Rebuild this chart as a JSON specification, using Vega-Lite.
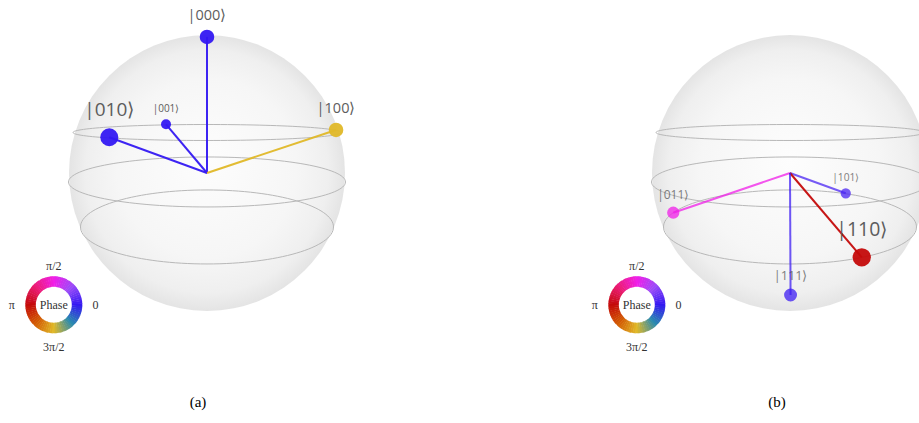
{
  "$schema": "https://vega.github.io/schema/vega-lite/v6.json",
  "padding": 0,
  "spacing": 0,
  "background": "white",
  "config": {"view": {"stroke": null}, "concat": {"spacing": 0}},
  "datasets": {
    "wheel": [
      {"phase": 0}, {"phase": 5}, {"phase": 10}, {"phase": 15}, {"phase": 20}, {"phase": 25},
      {"phase": 30}, {"phase": 35}, {"phase": 40}, {"phase": 45}, {"phase": 50}, {"phase": 55},
      {"phase": 60}, {"phase": 65}, {"phase": 70}, {"phase": 75}, {"phase": 80}, {"phase": 85},
      {"phase": 90}, {"phase": 95}, {"phase": 100}, {"phase": 105}, {"phase": 110}, {"phase": 115},
      {"phase": 120}, {"phase": 125}, {"phase": 130}, {"phase": 135}, {"phase": 140}, {"phase": 145},
      {"phase": 150}, {"phase": 155}, {"phase": 160}, {"phase": 165}, {"phase": 170}, {"phase": 175},
      {"phase": 180}, {"phase": 185}, {"phase": 190}, {"phase": 195}, {"phase": 200}, {"phase": 205},
      {"phase": 210}, {"phase": 215}, {"phase": 220}, {"phase": 225}, {"phase": 230}, {"phase": 235},
      {"phase": 240}, {"phase": 245}, {"phase": 250}, {"phase": 255}, {"phase": 260}, {"phase": 265},
      {"phase": 270}, {"phase": 275}, {"phase": 280}, {"phase": 285}, {"phase": 290}, {"phase": 295},
      {"phase": 300}, {"phase": 305}, {"phase": 310}, {"phase": 315}, {"phase": 320}, {"phase": 325},
      {"phase": 330}, {"phase": 335}, {"phase": 340}, {"phase": 345}, {"phase": 350}, {"phase": 355}
    ],
    "wheelLabels": [
      {"x": -1.11, "y": -0.672, "label": "π/2"},
      {"x": -1.414, "y": -0.953, "label": "π"},
      {"x": -0.808, "y": -0.953, "label": "0"},
      {"x": -1.11, "y": -1.259, "label": "3π/2"},
      {"x": -1.11, "y": -0.955, "label": "Phase"}
    ]
  },
  "hconcat": [
    {
      "width": 459,
      "height": 423,
      "layer": [
        {
          "data": {"values": [{"x": 0, "y": 0}]},
          "mark": {"type": "point", "shape": "circle", "filled": true, "size": 76176, "opacity": 1, "strokeWidth": 0,
            "fill": {"gradient": "radial", "x1": 0.5, "y1": 0.45, "r1": 0, "x2": 0.5, "y2": 0.5, "r2": 0.5,
              "stops": [{"offset": 0, "color": "#fdfdfd"}, {"offset": 0.65, "color": "#f6f6f6"}, {"offset": 0.88, "color": "#efefef"}, {"offset": 1, "color": "#e4e4e4"}]}},
          "encoding": {
            "x": {"field": "x", "type": "quantitative", "axis": null, "scale": {"domain": [-1.5, 1.8261], "nice": false, "zero": false}},
            "y": {"field": "y", "type": "quantitative", "axis": null, "scale": {"domain": [-1.8116, 1.2536], "nice": false, "zero": false}}
          }
        },
        {
          "data": {"values": [{"x": 0, "y": 0.2935}]},
          "mark": {"type": "point", "shape": "M -1 0 A 1 0.0597 0 1 1 1 0 A 1 0.0597 0 1 1 -1 0 Z", "filled": false, "size": 71824, "stroke": "#b8b8b8", "strokeWidth": 1, "opacity": 1},
          "encoding": {"x": {"field": "x", "type": "quantitative"}, "y": {"field": "y", "type": "quantitative"}}
        },
        {
          "data": {"values": [{"x": 0, "y": -0.065}]},
          "mark": {"type": "point", "shape": "M -1 0 A 1 0.1805 0 1 1 1 0 A 1 0.1805 0 1 1 -1 0 Z", "filled": false, "size": 76729, "stroke": "#b8b8b8", "strokeWidth": 1, "opacity": 1},
          "encoding": {"x": {"field": "x", "type": "quantitative"}, "y": {"field": "y", "type": "quantitative"}}
        },
        {
          "data": {"values": [{"x": 0, "y": -0.391}]},
          "mark": {"type": "point", "shape": "M -1 0 A 1 0.2925 0 1 1 1 0 A 1 0.2925 0 1 1 -1 0 Z", "filled": false, "size": 64009, "stroke": "#b8b8b8", "strokeWidth": 1, "opacity": 1},
          "encoding": {"x": {"field": "x", "type": "quantitative"}, "y": {"field": "y", "type": "quantitative"}}
        },
        {
          "data": {"name": "statesA", "values": [
            {"state": "|000⟩", "x": 0, "y": 0.986, "prob": 0.25, "phase": 0, "side": "front"},
            {"state": "|001⟩", "x": -0.297, "y": 0.353, "prob": 0.05, "phase": 0, "side": "front"},
            {"state": "|010⟩", "x": -0.708, "y": 0.259, "prob": 0.45, "phase": 0, "side": "front"},
            {"state": "|100⟩", "x": 0.935, "y": 0.312, "prob": 0.25, "phase": 270, "side": "front"}
          ]},
          "encoding": {"x": {"field": "x", "type": "quantitative"}, "y": {"field": "y", "type": "quantitative"}},
          "layer": [
            {
              "mark": {"type": "rule", "strokeWidth": 2},
              "encoding": {
                "x2": {"datum": 0},
                "y2": {"datum": 0},
                "color": {"field": "phase", "type": "quantitative", "legend": null,
                  "scale": {"domain": [0, 45, 90, 135, 180, 225, 270, 315, 360], "range": ["#3318f2", "#9a4cf8", "#f01ee8", "#ec1c78", "#c40a0a", "#d25a04", "#e0b828", "#2a8aae", "#3318f2"], "interpolate": "rgb"}},
                "opacity": {"field": "side", "type": "nominal", "legend": null, "scale": {"domain": ["front", "back"], "range": [0.95, 0.75]}}
              }
            },
            {
              "mark": {"type": "point", "shape": "circle", "filled": true, "strokeWidth": 0},
              "encoding": {
                "size": {"field": "prob", "type": "quantitative", "legend": null, "scale": {"domain": [0.05, 0.45], "range": [100, 324], "zero": false}},
                "color": {"field": "phase", "type": "quantitative", "legend": null},
                "opacity": {"field": "side", "type": "nominal", "legend": null}
              }
            },
            {
              "transform": [{"calculate": "datum.y + (15 + 30 * (datum.prob - 0.05)) / 138", "as": "ly"}],
              "mark": {"type": "text", "font": "Open Sans", "color": "#555555", "baseline": "middle", "align": "center"},
              "encoding": {
                "y": {"field": "ly", "type": "quantitative"},
                "text": {"field": "state"},
                "size": {"field": "prob", "type": "quantitative", "legend": null, "scale": {"domain": [0.05, 0.45], "range": [10, 19], "zero": false}},
                "opacity": {"field": "side", "type": "nominal", "legend": null}
              }
            }
          ],
          "resolve": {"scale": {"size": "independent"}}
        },
        {
          "data": {"name": "wheel"},
          "mark": {"type": "point", "filled": true, "size": 3249, "opacity": 1, "strokeWidth": 0,
            "shape": "M 0.99863 -0.05234 A 1 1 0 0 1 0.99863 0.05234 L 0.63071 0.03306 A 0.63158 0.63158 0 0 0 0.63071 -0.03306 Z"},
          "encoding": {
            "x": {"datum": -1.11},
            "y": {"datum": -0.955},
            "angle": {"field": "phase", "type": "quantitative", "legend": null, "scale": {"domain": [0, 360], "range": [360, 0]}},
            "color": {"field": "phase", "type": "quantitative", "legend": null}
          }
        },
        {
          "data": {"name": "wheelLabels"},
          "mark": {"type": "text", "font": "Liberation Serif", "fontSize": 12, "color": "#333333", "baseline": "middle", "align": "center"},
          "encoding": {"x": {"field": "x", "type": "quantitative"}, "y": {"field": "y", "type": "quantitative"}, "text": {"field": "label"}}
        },
        {
          "data": {"values": [{"x": -0.065, "y": -1.659, "caption": "(a)"}]},
          "mark": {"type": "text", "font": "Liberation Serif", "fontSize": 15, "color": "#000000", "baseline": "middle", "align": "center"},
          "encoding": {"x": {"field": "x", "type": "quantitative"}, "y": {"field": "y", "type": "quantitative"}, "text": {"field": "caption"}}
        }
      ],
      "resolve": {"scale": {"size": "independent"}}
    },
    {
      "width": 460,
      "height": 423,
      "layer": [
        {
          "data": {"values": [{"x": 0, "y": 0}]},
          "mark": {"type": "point", "shape": "circle", "filled": true, "size": 76176, "opacity": 1, "strokeWidth": 0, "clip": true,
            "fill": {"gradient": "radial", "x1": 0.5, "y1": 0.45, "r1": 0, "x2": 0.5, "y2": 0.5, "r2": 0.5,
              "stops": [{"offset": 0, "color": "#fdfdfd"}, {"offset": 0.65, "color": "#f6f6f6"}, {"offset": 0.88, "color": "#efefef"}, {"offset": 1, "color": "#e4e4e4"}]}},
          "encoding": {
            "x": {"field": "x", "type": "quantitative", "axis": null, "scale": {"domain": [-2.3986, 0.9348], "nice": false, "zero": false}},
            "y": {"field": "y", "type": "quantitative", "axis": null, "scale": {"domain": [-1.8116, 1.2536], "nice": false, "zero": false}}
          }
        },
        {
          "data": {"values": [{"x": 0, "y": 0.2935}]},
          "mark": {"type": "point", "shape": "M -1 0 A 1 0.0597 0 1 1 1 0 A 1 0.0597 0 1 1 -1 0 Z", "filled": false, "size": 71824, "stroke": "#b8b8b8", "strokeWidth": 1, "opacity": 1, "clip": true},
          "encoding": {"x": {"field": "x", "type": "quantitative"}, "y": {"field": "y", "type": "quantitative"}}
        },
        {
          "data": {"values": [{"x": 0, "y": -0.065}]},
          "mark": {"type": "point", "shape": "M -1 0 A 1 0.1805 0 1 1 1 0 A 1 0.1805 0 1 1 -1 0 Z", "filled": false, "size": 76729, "stroke": "#b8b8b8", "strokeWidth": 1, "opacity": 1, "clip": true},
          "encoding": {"x": {"field": "x", "type": "quantitative"}, "y": {"field": "y", "type": "quantitative"}}
        },
        {
          "data": {"values": [{"x": 0, "y": -0.391}]},
          "mark": {"type": "point", "shape": "M -1 0 A 1 0.2925 0 1 1 1 0 A 1 0.2925 0 1 1 -1 0 Z", "filled": false, "size": 64009, "stroke": "#b8b8b8", "strokeWidth": 1, "opacity": 1, "clip": true},
          "encoding": {"x": {"field": "x", "type": "quantitative"}, "y": {"field": "y", "type": "quantitative"}}
        },
        {
          "data": {"name": "statesB", "values": [
            {"state": "|011⟩", "x": -0.846, "y": -0.288, "prob": 0.14, "phase": 90, "side": "back"},
            {"state": "|101⟩", "x": 0.404, "y": -0.147, "prob": 0.06, "phase": 10, "side": "back"},
            {"state": "|110⟩", "x": 0.52, "y": -0.611, "prob": 0.47, "phase": 180, "side": "front"},
            {"state": "|111⟩", "x": 0.004, "y": -0.884, "prob": 0.17, "phase": 5, "side": "back"}
          ]},
          "encoding": {"x": {"field": "x", "type": "quantitative"}, "y": {"field": "y", "type": "quantitative"}},
          "layer": [
            {
              "mark": {"type": "rule", "strokeWidth": 2},
              "encoding": {
                "x2": {"datum": 0},
                "y2": {"datum": 0},
                "color": {"field": "phase", "type": "quantitative", "legend": null,
                  "scale": {"domain": [0, 45, 90, 135, 180, 225, 270, 315, 360], "range": ["#3318f2", "#9a4cf8", "#f01ee8", "#ec1c78", "#c40a0a", "#d25a04", "#e0b828", "#2a8aae", "#3318f2"], "interpolate": "rgb"}},
                "opacity": {"field": "side", "type": "nominal", "legend": null, "scale": {"domain": ["front", "back"], "range": [0.95, 0.75]}}
              }
            },
            {
              "mark": {"type": "point", "shape": "circle", "filled": true, "strokeWidth": 0},
              "encoding": {
                "size": {"field": "prob", "type": "quantitative", "legend": null, "scale": {"domain": [0.05, 0.45], "range": [100, 324], "zero": false}},
                "color": {"field": "phase", "type": "quantitative", "legend": null},
                "opacity": {"field": "side", "type": "nominal", "legend": null}
              }
            },
            {
              "transform": [{"calculate": "datum.y + (15 + 30 * (datum.prob - 0.05)) / 138", "as": "ly"}],
              "mark": {"type": "text", "font": "Open Sans", "color": "#555555", "baseline": "middle", "align": "center"},
              "encoding": {
                "y": {"field": "ly", "type": "quantitative"},
                "text": {"field": "state"},
                "size": {"field": "prob", "type": "quantitative", "legend": null, "scale": {"domain": [0.05, 0.45], "range": [10, 19], "zero": false}},
                "opacity": {"field": "side", "type": "nominal", "legend": null}
              }
            }
          ],
          "resolve": {"scale": {"size": "independent"}}
        },
        {
          "data": {"name": "wheel"},
          "mark": {"type": "point", "filled": true, "size": 3249, "opacity": 1, "strokeWidth": 0,
            "shape": "M 0.99863 -0.05234 A 1 1 0 0 1 0.99863 0.05234 L 0.63071 0.03306 A 0.63158 0.63158 0 0 0 0.63071 -0.03306 Z"},
          "encoding": {
            "x": {"datum": -1.11},
            "y": {"datum": -0.955},
            "angle": {"field": "phase", "type": "quantitative", "legend": null, "scale": {"domain": [0, 360], "range": [360, 0]}},
            "color": {"field": "phase", "type": "quantitative", "legend": null}
          }
        },
        {
          "data": {"name": "wheelLabels"},
          "mark": {"type": "text", "font": "Liberation Serif", "fontSize": 12, "color": "#333333", "baseline": "middle", "align": "center"},
          "encoding": {"x": {"field": "x", "type": "quantitative"}, "y": {"field": "y", "type": "quantitative"}, "text": {"field": "label"}}
        },
        {
          "data": {"values": [{"x": -0.094, "y": -1.659, "caption": "(b)"}]},
          "mark": {"type": "text", "font": "Liberation Serif", "fontSize": 15, "color": "#000000", "baseline": "middle", "align": "center"},
          "encoding": {"x": {"field": "x", "type": "quantitative"}, "y": {"field": "y", "type": "quantitative"}, "text": {"field": "caption"}}
        }
      ],
      "resolve": {"scale": {"size": "independent"}}
    }
  ]
}
